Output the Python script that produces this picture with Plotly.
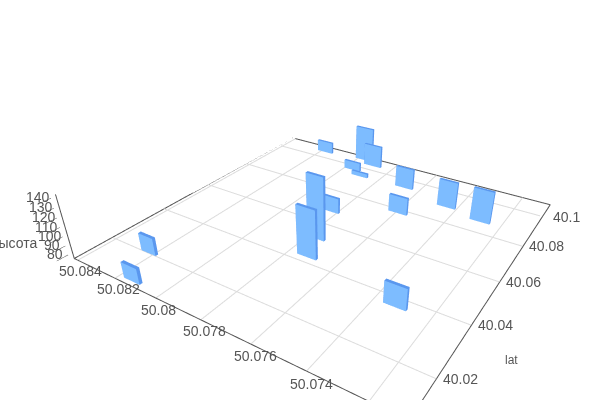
import plotly.graph_objects as go

# Bars: front-face latitude, centre longitude, bottom and top height, longitude width
lat = [40.0200, 40.0086, 40.1044, 40.1062, 40.1033, 40.0967, 40.0935, 40.0941, 40.0893, 40.0864, 40.0776, 40.0671, 40.0496, 40.0423, 40.0362]
lon = [50.08222, 50.08138, 50.08177, 50.07967, 50.07899, 50.07959, 50.07895, 50.07672, 50.07445, 50.07285, 50.07592, 50.07827, 50.07747, 50.07722, 50.07324]
top = [94.2, 91.9, 89.0, 117.2, 101.8, 85.3, 79.9, 99.6, 106.2, 111.9, 94.8, 92.6, 148.6, 128.6, 98.0]
bottom = [75, 75, 75, 75, 75, 75, 75, 75, 75, 75, 75, 75, 80, 75, 75]
width = [0.00073, 0.00077, 0.00083, 0.00089, 0.00088, 0.00082, 0.00082, 0.00083, 0.00080, 0.00082, 0.00082, 0.00072, 0.00074, 0.00082, 0.00082]
lat_thick = 0.001

lat_ticks = [40.02, 40.04, 40.06, 40.08, 40.1]
lon_ticks = [50.072, 50.074, 50.076, 50.078, 50.08, 50.082, 50.084]
lon_labels = [50.074, 50.076, 50.078, 50.08, 50.082, 50.084]
lon_label_shift = [(5, 13), (5, 12), (4, 11), (3, 12), (4, 11), (3, 11)]
z_ticks = [80, 90, 100, 110, 120, 130, 140]

lat_range = [40.0071, 40.1089]
lon_range = [50.07084, 50.08420]
z_floor, z_axis_top = 75, 143
z_range = [74, 150]
pad_lat, pad_lon = 0.001, 0.0001

W, H = 664, 471
face_color = "#7DBCFF"
edge_color = "#5A97EE"
grid_color = "#dcdcdc"
frame_color = "#555555"
text_color = "#555555"

fig = go.Figure()
for v in lat_ticks:
    fig.add_trace(go.Scatter3d(x=[v, v], y=lon_range, z=[z_floor, z_floor], mode="lines", line=dict(color=grid_color, width=2), hoverinfo="skip"))
for v in lon_ticks:
    fig.add_trace(go.Scatter3d(x=lat_range, y=[v, v], z=[z_floor, z_floor], mode="lines", line=dict(color=grid_color, width=2), hoverinfo="skip"))
fig.add_trace(go.Scatter3d(x=[lat_range[0], lat_range[1], lat_range[1], lat_range[0], lat_range[0]],
                           y=[lon_range[1], lon_range[1], lon_range[0], lon_range[0], lon_range[1]],
                           z=[z_floor] * 5, mode="lines", line=dict(color=frame_color, width=2), hoverinfo="skip"))
fig.add_trace(go.Scatter3d(x=[lat_range[0]] * 2, y=[lon_range[1]] * 2, z=[z_floor, z_axis_top], mode="lines", line=dict(color=frame_color, width=2), hoverinfo="skip"))

for la, lo, t, b, wd in zip(lat, lon, top, bottom, width):
    x0, x1 = la, la + lat_thick
    y0, y1 = lo - wd / 2, lo + wd / 2
    fig.add_trace(go.Mesh3d(
        x=[x0, x1, x1, x0, x0, x1, x1, x0], y=[y0, y0, y1, y1, y0, y0, y1, y1], z=[b] * 4 + [t] * 4,
        i=[0, 0, 4, 4, 0, 0, 1, 1, 2, 2, 3, 3], j=[1, 2, 5, 6, 1, 5, 2, 6, 3, 7, 0, 4], k=[2, 3, 6, 7, 5, 4, 6, 5, 7, 6, 4, 7],
        facecolor=[edge_color] * 10 + [face_color] * 2, flatshading=True,
        lighting=dict(ambient=1, diffuse=0, specular=0, roughness=1, fresnel=0), hoverinfo="skip", showscale=False))

def axis(rng):
    return dict(title=dict(text=""), range=rng, showgrid=False, showline=False, zeroline=False,
                showbackground=False, showspikes=False, showticklabels=False)

font = dict(family="Liberation Sans", size=14, color=text_color)
anns = []
for v in lat_ticks:
    anns.append(dict(x=v, y=lon_range[0], z=z_floor, text=str(v), showarrow=False, xshift=24, yshift=0, font=font))
for v, (sx, sy) in zip(lon_labels, lon_label_shift):
    anns.append(dict(x=lat_range[0], y=v, z=z_floor, text=str(v), showarrow=False, xshift=sx, yshift=-sy, font=font))
for v in z_ticks:
    anns.append(dict(x=lat_range[0], y=lon_range[1], z=v, text=str(v), showarrow=False, xshift=-18, yshift=0, font=font))

scene = dict(
    xaxis=axis([lat_range[0] - pad_lat, lat_range[1] + pad_lat]),
    yaxis=axis([lon_range[0] - pad_lon, lon_range[1] + pad_lon]),
    zaxis=axis(z_range) | dict(tickvals=z_ticks, ticks="outside", ticklen=3, tickcolor=frame_color),
    aspectmode="manual",
    aspectratio=dict(x=1.01965, y=1.018, z=0.21906),
    camera=dict(eye=dict(x=-1.189, y=-0.771, z=0.76635), center=dict(x=-0.042, y=-0.033, z=-0.09365), up=dict(x=0, y=0, z=1)),
    bgcolor="white",
    annotations=anns,
)
fig.update_layout(width=W, height=H, margin=dict(l=0, r=0, t=0, b=0), scene=scene, paper_bgcolor="white", showlegend=False,
                  font=dict(family="Liberation Sans", color=text_color))
fig.add_annotation(x=511 / W, y=1 - 360 / H, xref="paper", yref="paper", xanchor="center", yanchor="middle", text="lat", showarrow=False, font=dict(size=12))
fig.add_annotation(x=39 / W, y=1 - 243 / H, xref="paper", yref="paper", xanchor="right", yanchor="middle", text="высота", showarrow=False, font=dict(size=14))
fig.write_html("out.html", config={"displayModeBar": False},
               post_script="document.body.style.margin='0';document.documentElement.style.overflow='hidden';")
